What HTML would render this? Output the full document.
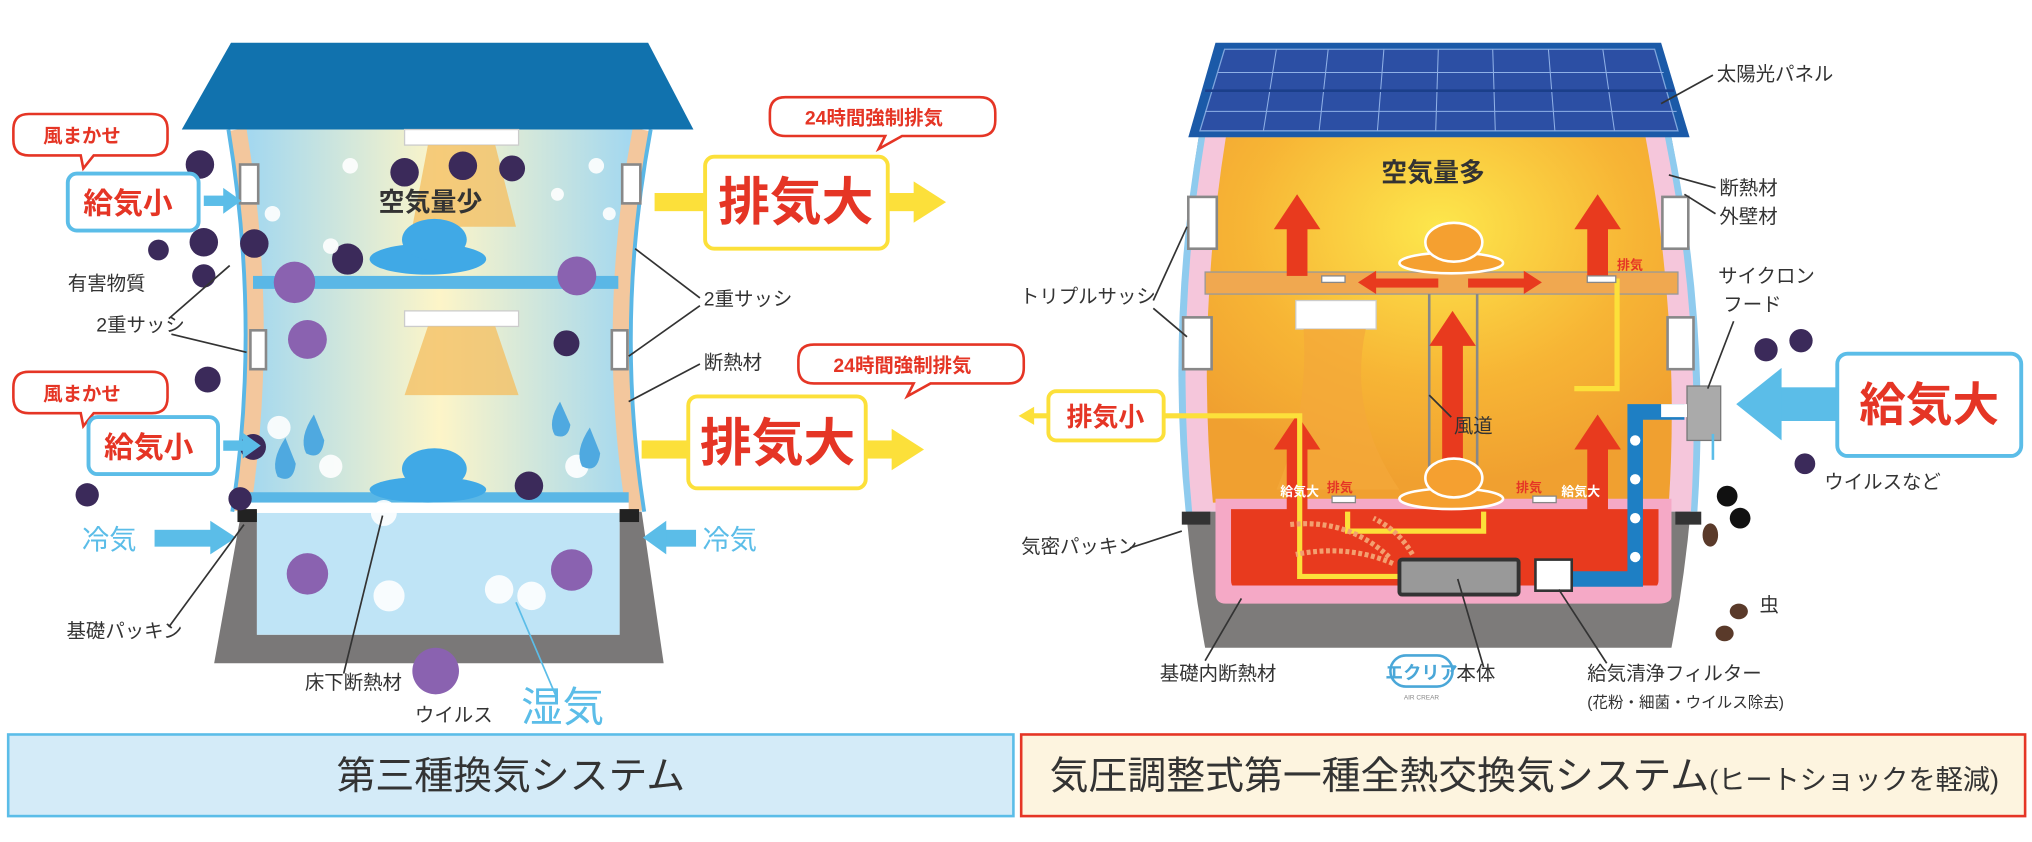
<!DOCTYPE html>
<html><head><meta charset="utf-8"><style>
html,body{margin:0;padding:0;background:#fff;}
svg{display:block;}
text{font-family:"Liberation Sans","Noto Sans CJK JP",sans-serif;}
</style></head><body>
<svg width="2032" height="842" viewBox="0 0 1568 650" xmlns="http://www.w3.org/2000/svg">
<defs>
<linearGradient id="lb" x1="0" x2="1" y1="0" y2="0">
<stop offset="0" stop-color="#9ed6f2"/><stop offset="0.5" stop-color="#fdf5c8"/><stop offset="1" stop-color="#9ed6f2"/></linearGradient>
<radialGradient id="og" cx="0.5" cy="0.25" r="0.7">
<stop offset="0" stop-color="#fde74c"/><stop offset="0.6" stop-color="#f7b535"/><stop offset="1" stop-color="#f0a030"/></radialGradient>
</defs>
<rect width="1568" height="650" fill="#fff"/>

<!-- LEFT HOUSE -->
<path d="M183,100 Q208,250 186,395 L490,395 Q467,250 495,100 Z" fill="url(#lb)"/>
<path d="M183,100 Q208,250 186,395" fill="none" stroke="#f3c79d" stroke-width="14"/>
<path d="M176,100 Q201,250 179,395" fill="none" stroke="#5ab7e6" stroke-width="3"/>
<path d="M495,100 Q467,250 490,395" fill="none" stroke="#f3c79d" stroke-width="14"/>
<path d="M502,100 Q474,250 497,395" fill="none" stroke="#5ab7e6" stroke-width="3"/>
<rect x="185" y="127" width="14" height="30" fill="#fff" stroke="#888" stroke-width="2"/>
<rect x="193" y="255" width="12" height="30" fill="#fff" stroke="#888" stroke-width="2"/>
<rect x="480" y="127" width="14" height="30" fill="#fff" stroke="#888" stroke-width="2"/>
<rect x="472" y="255" width="12" height="30" fill="#fff" stroke="#888" stroke-width="2"/>
<rect x="195" y="213" width="282" height="10" fill="#5ab7e6"/>
<rect x="190" y="380" width="295" height="8" fill="#5ab7e6"/>
<rect x="190" y="388" width="295" height="8" fill="#fff"/>
<path d="M186,395 L165,512 L512,512 L495,395 L478,395 L478,490 L198,490 L198,395 Z" fill="#7a7878"/>
<rect x="198" y="396" width="280" height="94" fill="#bfe4f6"/>
<rect x="183" y="393" width="15" height="10" fill="#222"/>
<rect x="478" y="393" width="15" height="10" fill="#222"/>
<polygon points="178,33 500,33 535,100 140,100" fill="#1172ae"/>
<rect x="312" y="100" width="88" height="12" fill="#fff" stroke="#ccc"/>
<polygon points="330,112 382,112 398,175 318,175" fill="#f4c065" opacity="0.8"/>
<rect x="312" y="240" width="88" height="12" fill="#fff" stroke="#ccc"/>
<polygon points="330,252 382,252 400,305 312,305" fill="#f4c065" opacity="0.8"/>
<ellipse cx="330" cy="200" rx="45" ry="12" fill="#40a9e6"/>
<ellipse cx="335" cy="185" rx="25" ry="16" fill="#40a9e6"/>
<ellipse cx="330" cy="378" rx="45" ry="10" fill="#40a9e6"/>
<ellipse cx="335" cy="362" rx="25" ry="16" fill="#40a9e6"/>
<text x="292" y="163" font-size="20" font-weight="bold" fill="#333">空気量少</text>
<g fill="#3b2a5a">
<circle cx="157" cy="187" r="11"/><circle cx="196" cy="188" r="11"/><circle cx="157" cy="213" r="9"/><circle cx="122" cy="193" r="8"/><circle cx="154" cy="127" r="11"/><circle cx="268" cy="200" r="12"/><circle cx="312" cy="133" r="11"/><circle cx="357" cy="128" r="11"/><circle cx="395" cy="130" r="10"/><circle cx="160" cy="293" r="10"/><circle cx="195" cy="345" r="10"/><circle cx="185" cy="385" r="9"/><circle cx="67" cy="382" r="9"/><circle cx="408" cy="375" r="11"/><circle cx="437" cy="265" r="10"/></g>
<g fill="#8a62b0">
<circle cx="227" cy="218" r="16"/><circle cx="445" cy="213" r="15"/><circle cx="237" cy="262" r="15"/><circle cx="237" cy="443" r="16"/><circle cx="441" cy="440" r="16"/><circle cx="336" cy="518" r="18"/></g>
<g fill="#fff" opacity="0.9">
<circle cx="270" cy="128" r="6"/><circle cx="460" cy="128" r="6"/><circle cx="470" cy="165" r="5"/><circle cx="210" cy="165" r="6"/><circle cx="255" cy="190" r="6"/><circle cx="430" cy="150" r="5"/><circle cx="215" cy="330" r="9"/><circle cx="255" cy="360" r="9"/><circle cx="445" cy="360" r="9"/><circle cx="300" cy="460" r="12"/><circle cx="385" cy="455" r="11"/><circle cx="410" cy="460" r="11"/><circle cx="296" cy="396" r="10"/></g>
<path d="M242,320 q-12,18 -6,30 q12,6 14,-10 z" fill="#4fa9e0"/>
<path d="M220,338 q-12,18 -6,30 q12,6 14,-10 z" fill="#4fa9e0"/>
<path d="M432,310 q-10,16 -4,26 q10,4 12,-8 z" fill="#4fa9e0"/>
<path d="M455,330 q-12,18 -6,30 q12,6 14,-10 z" fill="#4fa9e0"/>

<!-- left callouts -->
<g fill="#fff" stroke="#e53525" stroke-width="2">
<path d="M22,88 h95 q12,0 12,12 v8 q0,12 -12,12 h-45 l-8,10 l-2,-10 h-40 q-12,0 -12,-12 v-8 q0,-12 12,-12z"/>
<path d="M22,287 h95 q12,0 12,12 v8 q0,12 -12,12 h-45 l-8,10 l-2,-10 h-40 q-12,0 -12,-12 v-8 q0,-12 12,-12z"/>
<path d="M606,75 h150 q12,0 12,12 v6 q0,12 -12,12 h-60 l-18,10 l5,-10 h-77 q-12,0 -12,-12 v-6 q0,-12 12,-12z"/>
<path d="M628,266 h150 q12,0 12,12 v6 q0,12 -12,12 h-60 l-18,10 l5,-10 h-77 q-12,0 -12,-12 v-6 q0,-12 12,-12z"/>
</g>
<g fill="#e53525" font-size="15" font-weight="bold">
<text x="33" y="110">風まかせ</text><text x="33" y="309">風まかせ</text>
<text x="621" y="96">24時間強制排気</text><text x="643" y="287">24時間強制排気</text></g>
<rect x="52" y="134" width="101" height="44" rx="7" fill="#fff" stroke="#5bbde8" stroke-width="3"/>
<rect x="68" y="322" width="100" height="44" rx="7" fill="#fff" stroke="#5bbde8" stroke-width="3"/>
<text x="64" y="165" font-size="23" font-weight="bold" fill="#e53525">給気小</text>
<text x="80" y="353" font-size="23" font-weight="bold" fill="#e53525">給気小</text>
<g fill="#5bbde8">
<rect x="157" y="151" width="17" height="8"/><polygon points="172,145 186,155 172,165"/>
<rect x="172" y="340" width="17" height="8"/><polygon points="187,334 201,344 187,354"/>
<rect x="119" y="409" width="45" height="13"/><polygon points="162,402 182,415 162,428"/>
<rect x="512" y="409" width="25" height="13"/><polygon points="514,402 496,415 514,428"/></g>
<text x="63" y="424" font-size="21" fill="#5bbde8">冷気</text>
<text x="542" y="424" font-size="21" fill="#5bbde8">冷気</text>
<g fill="#fce03a">
<rect x="505" y="149" width="40" height="14"/><rect x="685" y="149" width="22" height="14"/><polygon points="705,140 730,156 705,172"/>
<rect x="495" y="340" width="36" height="14"/><rect x="668" y="340" width="22" height="14"/><polygon points="688,331 713,347 688,363"/></g>
<rect x="544" y="121" width="141" height="71" rx="7" fill="#fff" stroke="#fce03a" stroke-width="3"/>
<rect x="531" y="306" width="137" height="71" rx="7" fill="#fff" stroke="#fce03a" stroke-width="3"/>
<text x="614" y="170" font-size="40" font-weight="bold" fill="#e53525" text-anchor="middle">排気大</text>
<text x="600" y="356" font-size="40" font-weight="bold" fill="#e53525" text-anchor="middle">排気大</text>
<g font-size="15" fill="#333">
<text x="52" y="224">有害物質</text><text x="74" y="256">2重サッシ</text>
<text x="51" y="492">基礎パッキン</text><text x="235" y="532">床下断熱材</text>
<text x="320" y="557">ウイルス</text><text x="543" y="236">2重サッシ</text><text x="543" y="285">断熱材</text></g>
<text x="402" y="557" font-size="32" fill="#5bbde8">湿気</text>
<g stroke="#333" stroke-width="1.3" fill="none">
<polyline points="130,246 177,205"/><polyline points="132,258 190,272"/>
<polyline points="540,230 490,192"/><polyline points="540,236 485,275"/><polyline points="540,281 485,310"/>
<polyline points="130,484 188,405"/><polyline points="265,520 295,398"/><polyline points="430,540 398,465" stroke="#5bbde8"/></g>

<rect x="6" y="567" width="776" height="63" fill="#d4ebf8" stroke="#5bbde8" stroke-width="2"/>
<text x="394" y="609" font-size="30" fill="#333" text-anchor="middle">第三種換気システム</text>
<rect x="788" y="567" width="775" height="63" fill="#fdf4df" stroke="#e53525" stroke-width="2"/>
<text x="810" y="609" font-size="30" fill="#333">気圧調整式第一種全熱交換気システム<tspan font-size="21">(ヒートショックを軽減)</tspan></text>

<!-- RIGHT HOUSE -->
<path d="M925,106 Q893,300 930,500 L1290,500 Q1328,300 1290,106 Z" fill="#7d7b7a"/>
<path d="M925,106 Q900,250 915,395 L1310,395 Q1320,250 1290,106 Z" fill="#8fcbee"/>
<path d="M930,106 Q906,250 920,395 L1305,395 Q1314,250 1285,106 Z" fill="#f5c6db"/>
<path d="M946,106 Q923,250 936,388 L1288,388 Q1297,250 1270,106 Z" fill="url(#og)"/>
<rect x="930" y="210" width="365" height="17" fill="#f0a850" stroke="#999"/>
<path d="M938,385 L1290,385 L1290,460 Q1290,466 1280,466 L946,466 Q938,466 938,458 Z" fill="#f5a9c6"/>
<path d="M950,393 L1280,393 L1280,448 Q1280,455 1270,455 L958,455 Q950,455 950,448 Z" fill="#e83a1e"/>
<rect x="950" y="452" width="330" height="8" fill="#f5a9c6"/>
<rect x="912" y="395" width="22" height="10" fill="#333"/><rect x="1293" y="395" width="20" height="10" fill="#333"/>
<g fill="#fff" stroke="#888" stroke-width="2">
<rect x="917" y="152" width="22" height="40"/><rect x="913" y="245" width="22" height="40"/>
<rect x="1283" y="152" width="20" height="40"/><rect x="1287" y="245" width="20" height="40"/></g>
<rect x="1000" y="232" width="62" height="22" fill="#fff" stroke="#ccc"/>
<path d="M1006,254 L1054,254 Q1040,320 1080,378 L985,378 Q1010,320 1006,254 Z" fill="#f3a83a" opacity="0.7"/>
<line x1="1103" y1="227" x2="1103" y2="385" stroke="#888" stroke-width="2"/>
<line x1="1140" y1="227" x2="1140" y2="385" stroke="#888" stroke-width="2"/>
<g fill="#e83a1e">
<rect x="993" y="175" width="16" height="38"/><polygon points="983,177 1001,150 1019,177"/>
<rect x="1225" y="175" width="16" height="38"/><polygon points="1215,177 1233,150 1251,177"/>
<rect x="993" y="345" width="16" height="50"/><polygon points="983,347 1001,320 1019,347"/>
<rect x="1225" y="345" width="16" height="50"/><polygon points="1215,347 1233,320 1251,347"/>
<rect x="1113" y="265" width="16" height="115"/><polygon points="1103,267 1121,240 1139,267"/>
<rect x="1060" y="215" width="50" height="7"/><polygon points="1062,209 1048,218 1062,227"/>
<rect x="1133" y="215" width="45" height="7"/><polygon points="1176,209 1190,218 1176,227"/></g>
<g fill="none" stroke="#fce03a" stroke-width="4">
<polyline points="898,321 1003,321 1003,445 1080,445"/>
<polyline points="1248,215 1248,300 1215,300 Q1207,300 1207,310 L1207,437 1175,437"/>
<polyline points="1040,395 1040,410 1145,410 1145,395"/></g>
<path d="M1300,318 L1262,318 L1262,447 L1195,447" fill="none" stroke="#1e7fc4" stroke-width="12"/>
<g fill="#fff"><circle cx="1262" cy="340" r="4"/><circle cx="1262" cy="370" r="4"/><circle cx="1262" cy="400" r="4"/><circle cx="1262" cy="430" r="4"/></g>
<rect x="1080" y="432" width="92" height="27" rx="2" fill="#999" stroke="#333" stroke-width="3"/>
<rect x="1185" y="432" width="28" height="24" fill="#fff" stroke="#333" stroke-width="2"/>
<g stroke="#f3a070" stroke-width="4" stroke-dasharray="3,2" fill="none">
<path d="M1072,430 Q1040,400 995,405"/><path d="M1075,435 Q1040,420 1000,428"/><path d="M1090,428 Q1080,410 1060,400"/></g>
<g fill="#fff" stroke="#888"><rect x="1020" y="213" width="18" height="5"/><rect x="1225" y="213" width="22" height="5"/><rect x="1028" y="383" width="18" height="5"/><rect x="1183" y="383" width="18" height="5"/></g>
<g font-size="10" font-weight="bold"><text x="1248" y="208" fill="#e53525">排気</text><text x="1024" y="380" fill="#e53525">排気</text><text x="1170" y="380" fill="#e53525">排気</text>
<text x="988" y="383" fill="#fff">給気大</text><text x="1205" y="383" fill="#fff">給気大</text></g>
<ellipse cx="1120" cy="203" rx="40" ry="8" fill="#f5a030" stroke="#fff" stroke-width="2"/>
<ellipse cx="1122" cy="187" rx="22" ry="15" fill="#f5a030" stroke="#fff" stroke-width="2"/>
<ellipse cx="1120" cy="385" rx="40" ry="8" fill="#f5a030" stroke="#fff" stroke-width="2"/>
<ellipse cx="1122" cy="369" rx="22" ry="15" fill="#f5a030" stroke="#fff" stroke-width="2"/>
<text x="1066" y="140" font-size="20" font-weight="bold" fill="#333">空気量多</text>
<polygon points="938,33 1282,33 1304,106 917,106" fill="#1b5aa8"/>
<polygon points="945,38 1277,38 1295,101 926,101" fill="#2c4fa4" stroke="#7fa6dd" stroke-width="1"/>
<g stroke="#8fb0e6" stroke-width="0.8">
<line x1="940" y1="56" x2="1284" y2="56"/><line x1="935" y1="70" x2="1289" y2="70"/><line x1="930" y1="86" x2="1294" y2="86"/>
<line x1="1025" y1="38" x2="1018" y2="101"/><line x1="1110" y1="38" x2="1108" y2="101"/><line x1="1195" y1="38" x2="1200" y2="101"/>
<line x1="985" y1="38" x2="975" y2="101"/><line x1="1068" y1="38" x2="1063" y2="101"/><line x1="1152" y1="38" x2="1154" y2="101"/><line x1="1237" y1="38" x2="1246" y2="101"/></g>
<line x1="930" y1="70" x2="1292" y2="70" stroke="#1b3f8a" stroke-width="2"/>
<rect x="1302" y="298" width="26" height="42" fill="#aaa" stroke="#777"/>
<rect x="1282" y="312" width="20" height="10" fill="#fff"/>
<line x1="1322" y1="335" x2="1322" y2="355" stroke="#5bbde8" stroke-width="2"/>
<g fill="#5bbde8"><rect x="1372" y="299" width="45" height="26"/><polygon points="1375,284 1340,312 1375,340"/></g>
<rect x="1418" y="273" width="142" height="79" rx="8" fill="#fff" stroke="#5bbde8" stroke-width="3"/>
<text x="1489" y="325" font-size="36" font-weight="bold" fill="#e53525" text-anchor="middle">給気大</text>
<rect x="809" y="302" width="89" height="38" rx="6" fill="#fff" stroke="#fce03a" stroke-width="3"/>
<text x="853" y="329" font-size="20" font-weight="bold" fill="#e53525" text-anchor="middle">排気小</text>
<polyline points="809,321 796,321" stroke="#fce03a" stroke-width="4"/><polygon points="798,314 786,321 798,328" fill="#fce03a"/>
<g fill="#3b2a5a"><circle cx="1363" cy="270" r="9"/><circle cx="1390" cy="263" r="9"/><circle cx="1393" cy="358" r="8"/></g>
<g fill="#111"><circle cx="1333" cy="383" r="8"/><circle cx="1343" cy="400" r="8"/></g>
<g fill="#5a3a2a"><ellipse cx="1320" cy="413" rx="6" ry="9"/><ellipse cx="1342" cy="472" rx="7" ry="6"/><ellipse cx="1331" cy="489" rx="7" ry="6"/></g>
<g font-size="15" fill="#333">
<text x="1325" y="62">太陽光パネル</text><text x="1327" y="150">断熱材</text><text x="1327" y="172">外壁材</text>
<text x="1326" y="218">サイクロン</text><text x="1330" y="240">フード</text><text x="787" y="234">トリプルサッシ</text>
<text x="1122" y="334">風道</text><text x="1408" y="377">ウイルスなど</text><text x="1358" y="472">虫</text>
<text x="788" y="427">気密パッキン</text><text x="895" y="525">基礎内断熱材</text><text x="1124" y="525">本体</text>
<text x="1225" y="525">給気清浄フィルター</text><text x="1225" y="546" font-size="12">(花粉・細菌・ウイルス除去)</text></g>
<rect x="1073" y="506" width="48" height="24" rx="12" fill="#fff" stroke="#4aa7d8" stroke-width="2"/>
<text x="1097" y="524" font-size="14" fill="#4aa7d8" text-anchor="middle" font-weight="bold">エクリア</text>
<text x="1097" y="540" font-size="5" fill="#888" text-anchor="middle">AIR CREAR</text>
<g stroke="#333" stroke-width="1.3" fill="none">
<polyline points="1322,58 1282,80"/><polyline points="1324,145 1288,135"/><polyline points="1324,165 1300,150"/>
<polyline points="890,232 916,175"/><polyline points="890,238 916,260"/><polyline points="1338,248 1318,300"/>
<polyline points="1120,322 1103,305"/><polyline points="872,423 912,410"/><polyline points="930,510 958,462"/>
<polyline points="1145,515 1125,447"/><polyline points="1240,512 1203,455"/></g>
</svg>
</body></html>
